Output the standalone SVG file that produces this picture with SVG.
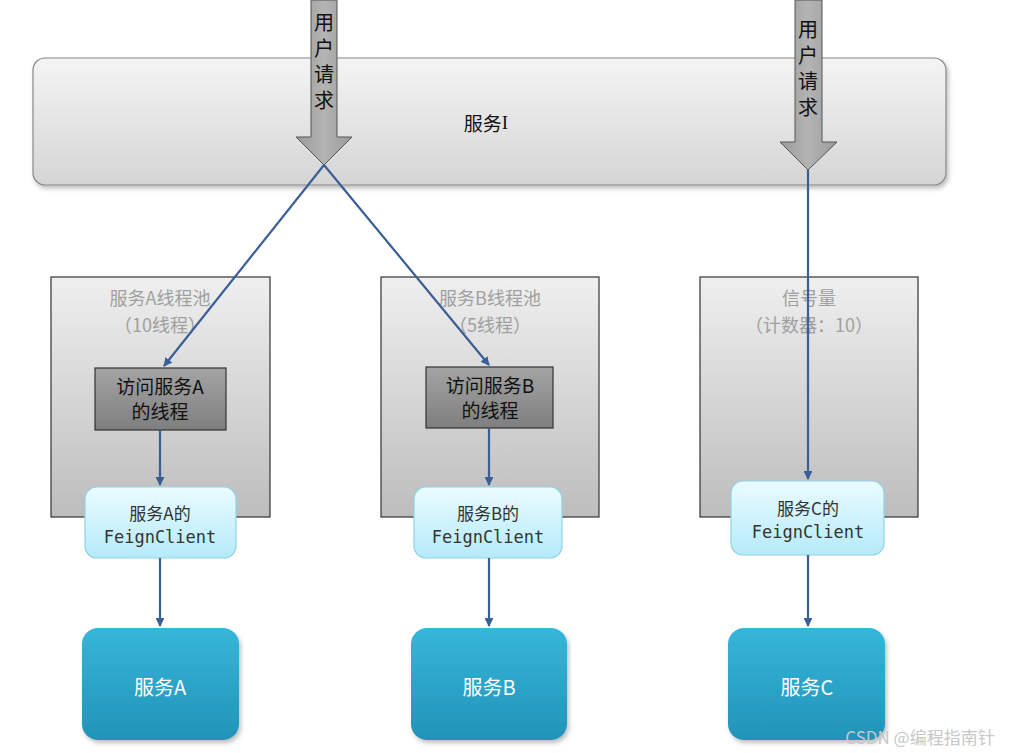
<svg xmlns="http://www.w3.org/2000/svg" width="1016" height="753" viewBox="0 0 1016 753">
<defs>
<linearGradient id="gBar" x1="0" y1="0" x2="0" y2="1"><stop offset="0" stop-color="#f4f4f4"/><stop offset="1" stop-color="#d5d5d5"/></linearGradient>
<linearGradient id="gPool" x1="0" y1="0" x2="0" y2="1"><stop offset="0" stop-color="#efefef"/><stop offset="1" stop-color="#bdbdbd"/></linearGradient>
<linearGradient id="gThread" x1="0" y1="0" x2="0" y2="1"><stop offset="0" stop-color="#a4a4a4"/><stop offset="1" stop-color="#7e7e7e"/></linearGradient>
<linearGradient id="gFeign" x1="0" y1="0" x2="0" y2="1"><stop offset="0" stop-color="#eafcff"/><stop offset="1" stop-color="#b5eafa"/></linearGradient>
<linearGradient id="gSvc" x1="0" y1="0" x2="0" y2="1"><stop offset="0" stop-color="#36b6da"/><stop offset="1" stop-color="#2293b8"/></linearGradient>
<linearGradient id="gArrow" x1="0" y1="0" x2="1" y2="0"><stop offset="0" stop-color="#9a9a9a"/><stop offset="0.5" stop-color="#b4b4b4"/><stop offset="1" stop-color="#9a9a9a"/></linearGradient>
<marker id="ah" viewBox="0 0 10 10" refX="9" refY="5" markerWidth="4" markerHeight="4" orient="auto" markerUnits="strokeWidth"><path d="M0,0 L10,5 L0,10 z" fill="#3a5e96"/></marker>
<filter id="sh" x="-10%" y="-10%" width="130%" height="130%"><feDropShadow dx="2" dy="3" stdDeviation="2" flood-color="#000" flood-opacity="0.25"/></filter>
</defs>
<style>
text{font-family:"Noto Sans CJK SC","Noto Sans","Liberation Sans",sans-serif;text-anchor:middle;dominant-baseline:central}
.bar{fill:url(#gBar);stroke:#888;stroke-width:1.2}
.pool{fill:url(#gPool);stroke:#333;stroke-width:1.2}
.thread{fill:url(#gThread);stroke:#333;stroke-width:1.2}
.feign{fill:url(#gFeign);stroke:#8fd3e8;stroke-width:1.2}
.svc{fill:url(#gSvc)}
.bigarrow{fill:url(#gArrow);stroke:#555;stroke-width:1}
.conn{stroke:#3a5e96;stroke-width:2.2;fill:none;marker-end:url(#ah)}
.ptitle{font-size:18px;fill:#a0a0a0}
.dark{font-size:19px;fill:#111}
.feignt{font-size:17px;fill:#333}
.mono{font-family:"DejaVu Sans Mono","Liberation Mono",monospace;font-size:17px;fill:#333}
.svct{font-size:20px;fill:#fff}
.vert{font-size:20px;fill:#111;writing-mode:vertical-rl;letter-spacing:6px}
</style>
<g id="serviceI">
<rect class="bar" x="33" y="58" width="913" height="127" rx="12" filter="url(#sh)"/>
<text x="486" y="122" font-size="19" fill="#111">服务<tspan font-family="Liberation Serif, serif">I</tspan></text>
</g>
<g id="request-left">
<path class="bigarrow" d="M311,0 L337,0 L337,137 L352,137 L324,165 L296,137 L311,137 Z"/>
<text class="vert" x="324" y="64">用户请求</text>
</g>
<g id="request-right">
<path class="bigarrow" d="M795,0 L822,0 L822,142 L837,142 L808,170 L780,142 L795,142 Z"/>
<text class="vert" x="808" y="71">用户请求</text>
</g>
<g id="poolA">
<rect class="pool" x="51" y="277" width="219" height="240"/>
<text class="ptitle" x="160" y="297">服务A线程池</text>
<text class="ptitle" x="160" y="324">（10线程）</text>
</g>
<g id="poolB">
<rect class="pool" x="381" y="277" width="218" height="240"/>
<text class="ptitle" x="490" y="297">服务B线程池</text>
<text class="ptitle" x="490" y="324">（5线程）</text>
</g>
<g id="semaphore">
<rect class="pool" x="700" y="277" width="218" height="240"/>
<text class="ptitle" x="809" y="297">信号量</text>
<text class="ptitle" x="809" y="324">（计数器：10）</text>
</g>
<g id="threadA">
<rect class="thread" x="95" y="368" width="131" height="62"/>
<text class="dark" x="160" y="385">访问服务A</text>
<text class="dark" x="160" y="410">的线程</text>
</g>
<g id="threadB">
<rect class="thread" x="426" y="367" width="127" height="61"/>
<text class="dark" x="490" y="384">访问服务B</text>
<text class="dark" x="490" y="409">的线程</text>
</g>
<g id="feignA">
<rect class="feign" x="85" y="487" width="151" height="71" rx="12"/>
<text class="feignt" x="160" y="512">服务A的</text>
<text class="mono" x="160" y="537">FeignClient</text>
</g>
<g id="feignB">
<rect class="feign" x="414" y="487" width="148" height="71" rx="12"/>
<text class="feignt" x="488" y="512">服务B的</text>
<text class="mono" x="488" y="537">FeignClient</text>
</g>
<g id="feignC">
<rect class="feign" x="731" y="481" width="153" height="74" rx="12"/>
<text class="feignt" x="808" y="507">服务C的</text>
<text class="mono" x="808" y="532">FeignClient</text>
</g>
<g id="serviceA">
<rect class="svc" x="82" y="628" width="157" height="112" rx="16" filter="url(#sh)"/>
<text class="svct" x="160" y="686">服务A</text>
</g>
<g id="serviceB">
<rect class="svc" x="411" y="628" width="156" height="112" rx="16" filter="url(#sh)"/>
<text class="svct" x="489" y="686">服务B</text>
</g>
<g id="serviceC">
<rect class="svc" x="728" y="628" width="157" height="112" rx="16" filter="url(#sh)"/>
<text class="svct" x="807" y="686">服务C</text>
</g>
<g id="connectors">
<line class="conn" x1="324" y1="165" x2="164" y2="366"/>
<line class="conn" x1="324" y1="165" x2="489" y2="365"/>
<line class="conn" x1="808" y1="170" x2="808" y2="479"/>
<line class="conn" x1="160" y1="430" x2="160" y2="485"/>
<line class="conn" x1="489" y1="428" x2="489" y2="485"/>
<line class="conn" x1="160" y1="558" x2="160" y2="626"/>
<line class="conn" x1="489" y1="558" x2="489" y2="626"/>
<line class="conn" x1="808" y1="555" x2="808" y2="626"/>
</g>
<text x="920" y="736" font-size="17" fill="#c8c8c8">CSDN @编程指南针</text>
</svg>
